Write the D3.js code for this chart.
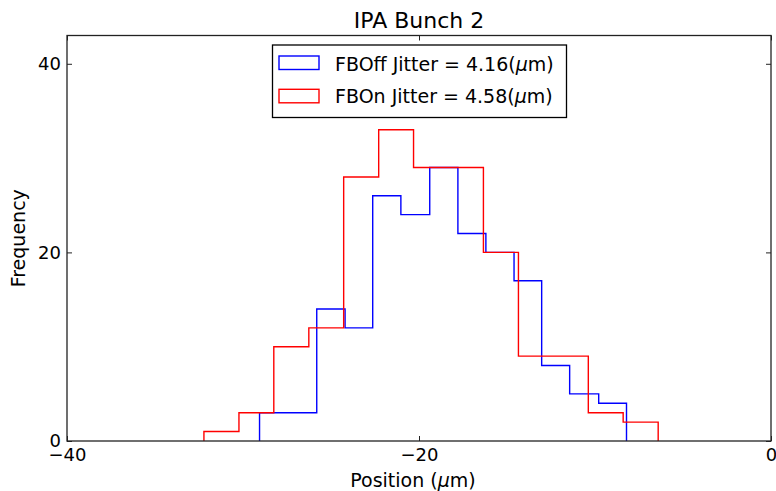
<!DOCTYPE html>
<html>
<head>
<meta charset="utf-8">
<script src="https://cdn.jsdelivr.net/npm/d3@7"></script>
<style>
  body { margin: 0; background: #fff; }
  svg { display: block; font-family: "DejaVu Sans", sans-serif; }
</style>
</head>
<body>
<svg id="chart" width="776" height="491"></svg>
<script>
// Histogram bin edges and counts for each feedback state
const offEdges = [-29.06, -27.45, -25.81, -24.20, -22.63, -21.03, -19.39, -17.79, -16.20, -14.60, -13.03, -11.44, -9.79, -8.21];
const offCounts = [3, 3, 14, 12, 26, 24, 29, 22, 20, 17, 8, 5, 4];
const onEdges = [-32.22, -30.23, -28.25, -26.26, -24.28, -22.29, -20.31, -18.32, -16.34, -14.35, -12.37, -10.38, -8.40, -6.41];
const onCounts = [1, 3, 10, 12, 28, 33, 29, 29, 20, 9, 9, 3, 2];

const xTicks = [-40, -20, 0];
const yTicks = [0, 20, 40];
const xDomain = [-40, 0];
const yDomain = [0, 43];

const series = [
  { name: "FBOff", jitter: "4.16", edges: offEdges, counts: offCounts, color: "#0000ff" },
  { name: "FBOn",  jitter: "4.58", edges: onEdges,  counts: onCounts,  color: "#ff0000" }
];

const margin = { left: 67, right: 5, top: 35.5, bottom: 50 };
const W = 776, H = 491;
const svg = d3.select("#chart");

const x = d3.scaleLinear().domain(xDomain).range([margin.left, W - margin.right]);
const y = d3.scaleLinear().domain(yDomain).range([H - margin.bottom, margin.top]);

// Step outline for a histogram, closed down to zero at both ends
function stepPoints(edges, counts) {
  const pts = [[edges[0], 0]];
  counts.forEach((c, i) => {
    pts.push([edges[i], c]);
    pts.push([edges[i + 1], c]);
  });
  pts.push([edges[edges.length - 1], 0]);
  return pts;
}
const line = d3.line().x(d => x(d[0])).y(d => y(d[1]));

const plot = svg.append("g");
series.forEach(s => {
  plot.append("path")
    .attr("d", line(stepPoints(s.edges, s.counts)))
    .attr("fill", "none")
    .attr("stroke", s.color)
    .attr("stroke-width", 1.4)
    .attr("stroke-linejoin", "miter");
});

// Frame
svg.append("rect")
  .attr("x", x(xDomain[0])).attr("y", y(yDomain[1]))
  .attr("width", x(xDomain[1]) - x(xDomain[0]))
  .attr("height", y(yDomain[0]) - y(yDomain[1]))
  .attr("fill", "none").attr("stroke", "#222").attr("stroke-width", 1.3);

// Axes with inward ticks on all four sides
const tickLen = 5;
const fmt = d => d < 0 ? "\u2212" + Math.abs(d) : String(d);

const xBottom = svg.append("g").attr("transform", `translate(0,${y(0)})`)
  .call(d3.axisBottom(x).tickValues(xTicks).tickSizeInner(-tickLen).tickSizeOuter(0).tickPadding(7).tickFormat(fmt));
const xTop = svg.append("g").attr("transform", `translate(0,${y(yDomain[1])})`)
  .call(d3.axisTop(x).tickValues(xTicks).tickSizeInner(-tickLen).tickSizeOuter(0).tickFormat(""));
const yLeft = svg.append("g").attr("transform", `translate(${x(xDomain[0])},0)`)
  .call(d3.axisLeft(y).tickValues(yTicks).tickSizeInner(-tickLen).tickSizeOuter(0).tickPadding(6).tickFormat(fmt));
const yRight = svg.append("g").attr("transform", `translate(${x(xDomain[1])},0)`)
  .call(d3.axisRight(y).tickValues(yTicks).tickSizeInner(-tickLen).tickSizeOuter(0).tickFormat(""));

[xBottom, xTop, yLeft, yRight].forEach(g => {
  g.select(".domain").remove();
  g.selectAll(".tick line").attr("stroke", "#222").attr("stroke-width", 1);
  g.selectAll("text").attr("font-size", 18).attr("fill", "#000")
    .attr("font-family", "DejaVu Sans, sans-serif");
});

// Title
svg.append("text")
  .attr("x", (x(xDomain[0]) + x(xDomain[1])) / 2).attr("y", 27.7)
  .attr("text-anchor", "middle").attr("font-size", 22).text("IPA Bunch 2");

// Axis labels
const xl = svg.append("text")
  .attr("x", 413).attr("y", 486.5)
  .attr("text-anchor", "middle").attr("font-size", 19);
xl.append("tspan").text("Position (");
xl.append("tspan").attr("font-style", "italic").text("\u03bc");
xl.append("tspan").text("m)");

svg.append("text")
  .attr("transform", `translate(25,${(y(0) + y(yDomain[1])) / 2}) rotate(-90)`)
  .attr("text-anchor", "middle").attr("font-size", 19).text("Frequency");

// Legend
const lg = svg.append("g");
lg.append("rect")
  .attr("x", 272.5).attr("y", 45).attr("width", 294).attr("height", 72.5)
  .attr("fill", "#fff").attr("stroke", "#000").attr("stroke-width", 1.3);
series.forEach((s, i) => {
  const top = 56 + i * 33.3;
  lg.append("rect")
    .attr("x", 279).attr("y", top).attr("width", 40).attr("height", 13.5)
    .attr("fill", "none").attr("stroke", s.color).attr("stroke-width", 1.4);
  const t = lg.append("text").attr("x", 335).attr("y", 70.7 + i * 32.7).attr("font-size", 19);
  t.append("tspan").text(`${s.name} Jitter = ${s.jitter}(`);
  t.append("tspan").attr("font-style", "italic").text("\u03bc");
  t.append("tspan").text("m)");
});
</script>
</body>
</html>
